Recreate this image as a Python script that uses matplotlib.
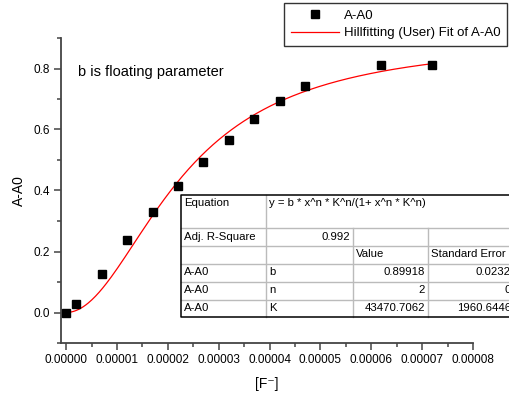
import numpy as np
import matplotlib
matplotlib.use("Agg")
import matplotlib.pyplot as plt
from matplotlib.ticker import MultipleLocator, FormatStrFormatter

plt.rcParams['font.family'] = ['Liberation Sans', 'DejaVu Sans']

# measured data
conc = [0.0, 0.000002, 0.000007, 0.000012, 0.000017, 0.000022, 0.000027,
        0.000032, 0.000037, 0.000042, 0.000047, 0.000062, 0.000072]
absorb = [0.0, 0.027, 0.125, 0.237, 0.328, 0.414, 0.495,
          0.566, 0.635, 0.694, 0.743, 0.812, 0.813]

# Hill fit parameters
b_fit = 0.89918
n_fit = 2
K_fit = 43470.7062

table_rows = [
    ["Equation", "y = b * x^n * K^n/(1+ x^n * K^n)", "", ""],
    ["Adj. R-Square", "0.992", "", ""],
    ["", "", "Value", "Standard Error"],
    ["A-A0", "b", "0.89918", "0.0232"],
    ["A-A0", "n", "2", "0"],
    ["A-A0", "K", "43470.7062", "1960.6446"],
]

fig = plt.figure(figsize=(5.09, 3.96), dpi=100)
ax = fig.add_axes([61 / 509, 1 - 343 / 396, 412 / 509, 305 / 396])

xf = np.linspace(0, max(conc), 300)
yf = b_fit * xf**n_fit * K_fit**n_fit / (1 + xf**n_fit * K_fit**n_fit)

ax.plot(conc, absorb, 's', color='black', ms=6, label='A-A0', zorder=3)
ax.plot(xf, yf, '-', color='red', lw=0.9, label='Hillfitting (User) Fit of A-A0')

ax.set_xlim(-0.000001, 0.00008)
ax.set_ylim(-0.1, 0.9)
ax.xaxis.set_major_locator(MultipleLocator(0.00001))
ax.xaxis.set_minor_locator(MultipleLocator(0.000005))
ax.yaxis.set_major_locator(MultipleLocator(0.2))
ax.yaxis.set_minor_locator(MultipleLocator(0.1))
ax.xaxis.set_major_formatter(FormatStrFormatter('%.5f'))
ax.yaxis.set_major_formatter(FormatStrFormatter('%.1f'))

for s in ['top', 'right']:
    ax.spines[s].set_visible(False)
for s in ['left', 'bottom']:
    ax.spines[s].set_color('#444444')
    ax.spines[s].set_linewidth(1.3)
ax.tick_params(which='major', direction='out', length=5, width=1.1,
               color='#444444', labelsize=8.5, pad=3)
ax.tick_params(which='minor', direction='out', length=3, width=1.1,
               color='#444444')

ax.set_xlabel('[F\u207b]', fontsize=10, labelpad=8)
ax.set_ylabel('A-A0', fontsize=10, labelpad=5)

ax.text(0.041, 0.888, 'b is floating parameter', transform=ax.transAxes,
        fontsize=10.5, va='center', ha='left')

leg = fig.legend(loc='upper right', bbox_to_anchor=(507 / 509, 1 - 3 / 396),
                 fontsize=9.5, frameon=True, fancybox=False, borderpad=0.5,
                 handlelength=3.6, handletextpad=0.4, labelspacing=0.4,
                 borderaxespad=0.0, numpoints=1)
leg.get_frame().set_edgecolor('black')
leg.get_frame().set_linewidth(1.0)

# parameter table drawn in pixel coordinates on an overlay
ov = fig.add_axes([0, 0, 1, 1], facecolor='none')
ov.set_xlim(0, 509)
ov.set_ylim(396, 0)
ov.axis('off')

col_x = [181, 266, 353, 428, 514]
row_y = [195, 228, 245.5, 263.5, 281.5, 299.5, 317]

ov.fill_between([col_x[0], col_x[-1]], row_y[0], row_y[-1], color='white', zorder=1)
for y in row_y[1:-1]:
    ov.plot([col_x[0], col_x[-1]], [y, y], color='#bbbbbb', lw=1.0, zorder=2)
for j, x in enumerate(col_x[1:-1], start=1):
    y_top = row_y[0] if j == 1 else row_y[1]
    ov.plot([x, x], [y_top, row_y[-1]], color='#bbbbbb', lw=1.0, zorder=2)
ov.plot([col_x[-1], col_x[0], col_x[0], col_x[-1]],
        [row_y[0], row_y[0], row_y[-1], row_y[-1]], color='black', lw=1.1, zorder=3)

for r, row in enumerate(table_rows):
    y_txt = row_y[r] + 8.5
    for c, cell in enumerate(row):
        if not cell:
            continue
        numeric = r != 2 and c >= 1 and cell[0].isdigit()
        if r == 0 and c == 1:
            numeric = False
        if numeric:
            ov.text(col_x[c + 1] - 3, y_txt, cell, ha='right', va='center',
                    fontsize=8.2, zorder=4)
        else:
            ov.text(col_x[c] + 3, y_txt, cell, ha='left', va='center',
                    fontsize=8.2, zorder=4)

fig.savefig('out.png', dpi=100)
